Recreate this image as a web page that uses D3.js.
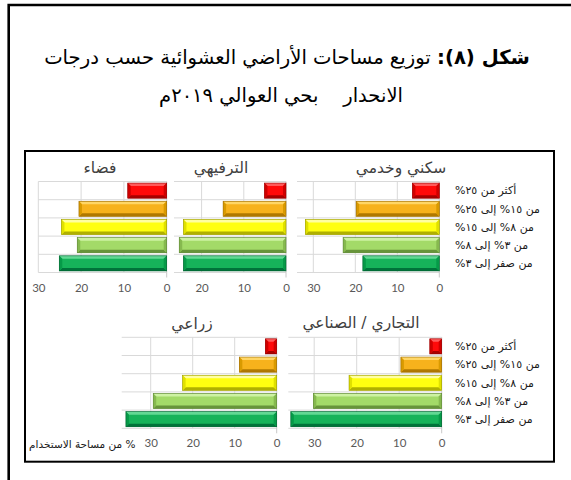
<!DOCTYPE html>
<html><head><meta charset="utf-8">
<script src="https://cdn.jsdelivr.net/npm/d3@7/dist/d3.min.js"></script>
<style>body{margin:0;background:#fff} svg{display:block}</style>
</head><body>
<svg id="c" width="571" height="480"></svg>
<script>
// ---------------- data ----------------
const categories = ["أكثر من ٢٥%", "من ١٥% إلى ٢٥%", "من ٨% إلى ١٥%", "من ٣% إلى ٨%", "من صفر إلى ٣%"];
const panelTitles = ["سكني وخدمي", "الترفيهي", "فضاء", "التجاري / الصناعي", "زراعي"];
const residential  = [6.4, 19.8, 31.9, 22.9, 18.2];
const recreational = [5.1, 14.9, 24.3, 25.3, 24.3];
const vacant       = [9.1, 20.5, 24.6, 20.9, 25.1];
const commercial   = [2.8, 9.6, 21.8, 30.2, 35.5];
const agricultural = [2.7, 8.9, 22.4, 29.4, 35.9];
const tickValues = [0, 10, 20, 30];
const titleBold = "شكل (٨):";
const titleLine1 = " توزيع مساحات الأراضي العشوائية حسب درجات";
const titleLine2 = "الانحدار\u00A0\u00A0\u00A0 بحي العوالي ٢٠١٩م";
const axisTitle = "% من مساحة الاستخدام";

// ---------------- layout / style ----------------
const ARABIC = "'DejaVu Sans', sans-serif";
const NUM = "Lato, 'Open Sans', sans-serif";
const rowH = 18.2;
const panels = [
  {title: panelTitles[0], values: residential,  zero: 439.3, left: 297,   top: 181.5, labels: true,  titleX: 401, titleY: 173},
  {title: panelTitles[1], values: recreational, zero: 286,   left: 174,   top: 181.5, labels: false, titleX: 221, titleY: 173},
  {title: panelTitles[2], values: vacant,       zero: 166.7, left: 38.3,  top: 181.5, labels: false, titleX: 100, titleY: 173},
  {title: panelTitles[3], values: commercial,   zero: 441.7, left: 288.3, top: 337.3, labels: true,  titleX: 361, titleY: 328},
  {title: panelTitles[4], values: agricultural, zero: 276.7, left: 121.7, top: 337.3, labels: false, titleX: 192, titleY: 329}
];
const pxPerUnit = [4.2, 4.22, 4.28, 4.25, 4.2];
const colors = [
  {main: "#ff0a0a", top: "#ff5a5a", bottom: "#a80000", side: "#d00000", edge: "#900000"},
  {main: "#f7b21c", top: "#ffd665", bottom: "#b07800", side: "#d99a00", edge: "#9a6a00"},
  {main: "#ffff10", top: "#ffffa0", bottom: "#b0b000", side: "#e0e000", edge: "#999900"},
  {main: "#a3da68", top: "#cdf2a2", bottom: "#67943a", side: "#86b94f", edge: "#5a8232"},
  {main: "#16b35a", top: "#62d894", bottom: "#00733a", side: "#069a48", edge: "#006030"}
];

const svg = d3.select("#c");

// outer frame (open at bottom / right)
svg.append("path").attr("d", "M8.7,480 V5 H571")
  .attr("fill", "none").attr("stroke", "#000").attr("stroke-width", 2.6);
// inner box
svg.append("rect").attr("x", 25).attr("y", 151).attr("width", 529).attr("height", 310.7)
  .attr("fill", "none").attr("stroke", "#000").attr("stroke-width", 2);

// main title
function fit(sel, target) {
  const w = sel.node().getComputedTextLength();
  const fs = parseFloat(sel.attr("font-size"));
  sel.attr("font-size", (fs * target / w).toFixed(2));
}
const t1 = svg.append("text").attr("x", 287).attr("y", 64).attr("direction", "rtl")
  .attr("text-anchor", "middle").attr("font-family", ARABIC).attr("font-size", 20).attr("fill", "#000");
t1.append("tspan").attr("font-weight", "bold").text(titleBold);
t1.append("tspan").text(titleLine1);
fit(t1, 486);
const t2 = svg.append("text").attr("x", 281).attr("y", 102).attr("direction", "rtl")
  .attr("text-anchor", "middle").attr("font-family", ARABIC).attr("font-size", 20).attr("fill", "#000")
  .text(titleLine2);
fit(t2, 244);

// panels
panels.forEach((p, pi) => {
  const g = svg.append("g");
  const max = (p.zero - p.left) / pxPerUnit[pi];
  const x = d3.scaleLinear().domain([0, max]).range([p.zero, p.left]);
  const y = d3.scaleBand().domain(categories).range([p.top, p.top + rowH * categories.length])
    .paddingInner(0.17).paddingOuter(0.085);
  const bottom = p.top + rowH * categories.length;
  const ticks = tickValues.filter(v => v <= max + 0.01);

  // horizontal gridlines at category boundaries
  d3.range(categories.length + 1).forEach(i => {
    const yy = p.top + i * y.step();
    g.append("line").attr("x1", p.left).attr("x2", p.zero).attr("y1", yy).attr("y2", yy)
      .attr("stroke", "#d9d9d9").attr("stroke-width", 1);
  });
  // vertical gridlines
  g.selectAll(".vg").data(ticks.filter(v => v > 0)).enter().append("line")
    .attr("x1", d => x(d)).attr("x2", d => x(d)).attr("y1", p.top).attr("y2", bottom)
    .attr("stroke", "#d9d9d9").attr("stroke-width", 1);
  // category axis line at zero
  g.append("line").attr("x1", x(0)).attr("x2", x(0)).attr("y1", p.top).attr("y2", bottom + 5)
    .attr("stroke", "#c8c8c8").attr("stroke-width", 1);

  // bars
  categories.forEach((c, i) => {
    const v = p.values[i];
    const col = colors[i];
    const x0 = x(v), x1 = x(0), y0 = y(c), h = y.bandwidth();
    const b = Math.min(3, h / 4, (x1 - x0) / 3);
    const bg = g.append("g");
    bg.append("rect").attr("x", x0).attr("y", y0).attr("width", x1 - x0).attr("height", h).attr("fill", col.main);
    const poly = (pts, f) => bg.append("path").attr("d", "M" + pts.map(q => q.join(",")).join("L") + "Z").attr("fill", f);
    poly([[x0, y0], [x1, y0], [x1 - b, y0 + b], [x0 + b, y0 + b]], col.top);
    poly([[x0, y0 + h], [x1, y0 + h], [x1 - b, y0 + h - b], [x0 + b, y0 + h - b]], col.bottom);
    poly([[x0, y0], [x0 + b, y0 + b], [x0 + b, y0 + h - b], [x0, y0 + h]], col.side);
    poly([[x1, y0], [x1 - b, y0 + b], [x1 - b, y0 + h - b], [x1, y0 + h]], col.side);
    bg.append("rect").attr("x", x0).attr("y", y0).attr("width", x1 - x0).attr("height", h)
      .attr("fill", "none").attr("stroke", col.edge).attr("stroke-width", 0.6);
  });

  // value axis labels
  const ax = d3.axisBottom(x).tickValues(ticks).tickSize(0).tickPadding(0).tickFormat(d3.format("d"));
  const axg = g.append("g").attr("transform", `translate(0,${bottom + 11})`).call(ax);
  axg.select(".domain").remove();
  axg.selectAll("text").attr("font-family", NUM).attr("font-size", 11.5).attr("fill", "#595959");

  // panel title
  g.append("text").attr("x", p.titleX).attr("y", p.titleY).attr("direction", "rtl").attr("text-anchor", "middle")
    .attr("font-family", ARABIC).attr("font-size", 15.5).attr("fill", "#404040").text(p.title);

  // category labels
  if (p.labels) {
    g.selectAll(".cl").data(categories).enter().append("text")
      .attr("x", 455).attr("y", d => y(d) + y.bandwidth() / 2).attr("dy", "0.35em")
      .attr("direction", "rtl").attr("text-anchor", "end")
      .attr("font-family", ARABIC).attr("font-size", 11).attr("fill", "#1a1a1a").text(d => d);
  }
});

// axis title
svg.append("text").attr("x", 29).attr("y", 448).attr("direction", "rtl").attr("text-anchor", "end")
  .attr("font-family", ARABIC).attr("font-size", 10.5).attr("fill", "#1a1a1a").text(axisTitle);
</script>
</body></html>
